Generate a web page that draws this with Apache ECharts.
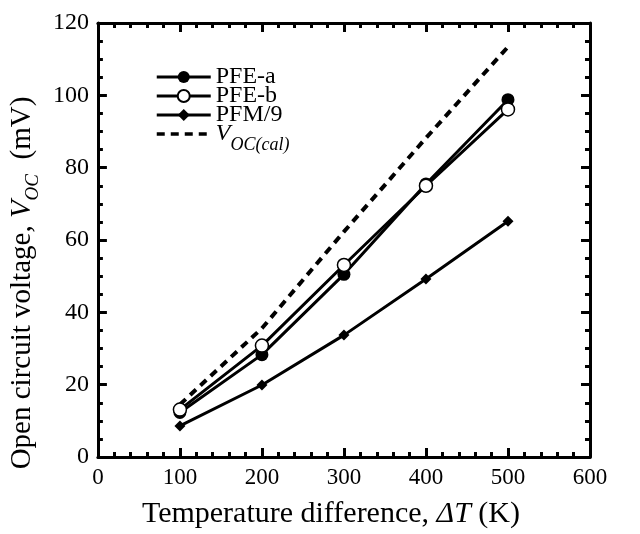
<!DOCTYPE html>
<html>
<head>
<meta charset="utf-8">
<script src="https://cdn.jsdelivr.net/npm/echarts@6/dist/echarts.min.js"></script>
<style>
html,body{margin:0;padding:0;background:#fff;}
#c{width:640px;height:534px;}
</style>
</head>
<body>
<div id="c"></div>
<script>
const temps = [100, 200, 300, 400, 500];
const pfeA = [12.3, 28.3, 50.5, 75.5, 98.8];
const pfeB = [13.1, 30.8, 53.1, 75.0, 96.1];
const pfm9 = [8.6, 19.9, 33.7, 49.2, 65.2];
const vocCal = [14.5, 35.6, 62.3, 88.2, 113.4];
const xTicks = [0, 100, 200, 300, 400, 500, 600];
const yTicks = [0, 20, 40, 60, 80, 100, 120];

const F = 'Liberation Serif';
const pairs = arr => temps.map((t, i) => [t, arr[i]]);

const chart = echarts.init(document.getElementById('c'), null, {renderer: 'canvas'});

function axisBase(extra) {
  return Object.assign({
    axisLine: {show: true, onZero: false, lineStyle: {color: '#000', width: 3}},
    axisTick: {show: true, inside: true, length: 9, lineStyle: {color: '#000', width: 3}},
    splitLine: {show: false}
  }, extra);
}

chart.setOption({
  animation: false,
  backgroundColor: '#fff',
  grid: {left: 96, right: 50, top: 23, bottom: 64, containLabel: false},
  legend: {
    orient: 'vertical',
    left: 150,
    top: 60,
    itemWidth: 54,
    itemHeight: 15,
    itemGap: -5,
    lineStyle: {width: 3},
    data: ['PFE-a', 'PFE-b', 'PFM/9', {name: 'VOCcal', itemStyle: {opacity: 0}, lineStyle: {width: 3.5}}],
    formatter: function (name) {
      if (name === 'VOCcal') return '{i|V}{s|OC(cal)}';
      return name;
    },
    textStyle: {
      fontFamily: F, fontSize: 24, color: '#000',
      rich: {
        i: {fontFamily: F, fontSize: 24, fontStyle: 'italic', color: '#000'},
        s: {fontFamily: F, fontSize: 18, fontStyle: 'italic', color: '#000', padding: [22, 0, 0, 0]}
      }
    }
  },
  xAxis: [
    axisBase({
      type: 'value', min: 0, max: 600, interval: 100,
      minorTick: {show: true, splitNumber: 5, length: 5, lineStyle: {color: '#000', width: 3}},
      axisLabel: {fontFamily: F, fontSize: 23, color: '#000', margin: 9,
        formatter: v => xTicks.indexOf(v) >= 0 ? String(v) : ''},
      name: '{a|Temperature difference, }{i|ΔT}{a| (K)}',
      nameLocation: 'middle',
      nameGap: 42,
      nameTextStyle: {
        padding: [0, 26, 0, 0],
        rich: {
          a: {fontFamily: F, fontSize: 30, color: '#000'},
          i: {fontFamily: F, fontSize: 30, fontStyle: 'italic', color: '#000'}
        }
      }
    }),
    axisBase({
      type: 'value', min: 0, max: 600, interval: 100, position: 'top',
      minorTick: {show: true, splitNumber: 5, length: 5, lineStyle: {color: '#000', width: 3}},
      axisLabel: {show: false}
    })
  ],
  yAxis: [
    axisBase({
      type: 'value', min: 0, max: 120, interval: 20,
      minorTick: {show: true, splitNumber: 4, length: 5, lineStyle: {color: '#000', width: 3}},
      axisLabel: {fontFamily: F, fontSize: 24, color: '#000', margin: 9,
        formatter: v => yTicks.indexOf(v) >= 0 ? String(v) : ''},
      name: '{a|Open circuit voltage, }{i|V}{s|OC}{a|  (mV)}',
      nameLocation: 'middle',
      nameGap: 52,
      nameRotate: 90,
      nameTextStyle: {
        padding: [0, 86, 0, 0],
        rich: {
          a: {fontFamily: F, fontSize: 29, color: '#000'},
          i: {fontFamily: F, fontSize: 29, fontStyle: 'italic', color: '#000'},
          s: {fontFamily: F, fontSize: 19, fontStyle: 'italic', color: '#000', padding: [20, 0, 0, 0]}
        }
      }
    }),
    axisBase({
      type: 'value', min: 0, max: 120, interval: 20, position: 'right',
      minorTick: {show: true, splitNumber: 4, length: 5, lineStyle: {color: '#000', width: 3}},
      axisLabel: {show: false}
    })
  ],
  series: [
    {
      name: 'VOCcal', type: 'line', data: pairs(vocCal), symbol: 'none',
      lineStyle: {color: '#000', width: 4, type: [8, 6]},
      itemStyle: {color: '#000'}, z: 2
    },
    {
      name: 'PFM/9', type: 'line', data: pairs(pfm9), symbol: 'diamond', symbolSize: 11,
      lineStyle: {color: '#000', width: 3}, itemStyle: {color: '#000'}, z: 3
    },
    {
      name: 'PFE-a', type: 'line', data: pairs(pfeA), symbol: 'circle', symbolSize: 13,
      lineStyle: {color: '#000', width: 3}, itemStyle: {color: '#000'}, z: 4
    },
    {
      name: 'PFE-b', type: 'line', data: pairs(pfeB), symbol: 'circle', symbolSize: 13,
      lineStyle: {color: '#000', width: 3},
      itemStyle: {color: '#fff', borderColor: '#000', borderWidth: 1.5}, z: 5
    }
  ]
});
</script>
</body>
</html>
